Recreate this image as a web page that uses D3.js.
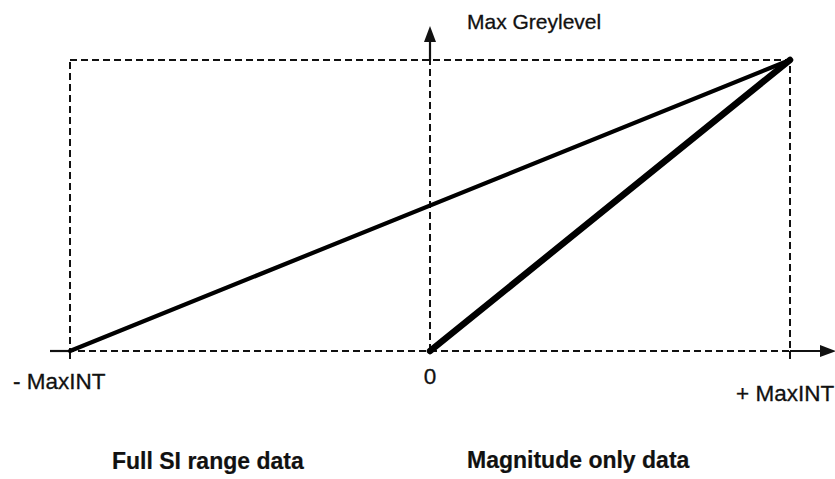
<!DOCTYPE html>
<html lang="en">
<head>
<meta charset="UTF-8">
<title>Greylevel mapping</title>
<script src="https://d3js.org/d3.v7.min.js"></script>
<style>
    body { margin: 0; background: #fff; }
    text { font-family: "Liberation Sans", Arial, sans-serif; fill: #111; stroke: #111; stroke-width: 0.3px; }
    .bold { font-weight: bold; stroke-width: 0.2px; }
</style>
</head>
<body>
<div id="chart"></div>
<script>
    // Data (intensity normalised to MaxINT, greylevel normalised to Max Greylevel)
    const xTicks = [-1, 0, 1];
    const xTickLabels = ["- MaxINT", "0", "+ MaxINT"];
    const fullRange = [{x: -1, y: 0}, {x: 1, y: 1}];
    const magnitudeOnly = [{x: 0, y: 0}, {x: 1, y: 1}];
    const yLabel = "Max Greylevel";
    const captions = ["Full SI range data", "Magnitude only data"];

    const W = 835, H = 479;
    const svg = d3.select("#chart").append("svg")
        .attr("width", W).attr("height", H);

    const x = d3.scaleLinear().domain([-1, 1]).range([70, 790]);
    const y = d3.scaleLinear().domain([0, 1]).range([351, 60]);

    const dash = "7,4";

    // dashed frame
    svg.append("rect")
        .attr("x", x(-1)).attr("y", y(1))
        .attr("width", x(1) - x(-1)).attr("height", y(0) - y(1))
        .attr("fill", "none").attr("stroke", "#111")
        .attr("stroke-width", 2).attr("stroke-dasharray", dash);

    // dashed vertical at 0
    svg.append("line")
        .attr("x1", x(0)).attr("x2", x(0))
        .attr("y1", y(0)).attr("y2", y(1))
        .attr("stroke", "#111").attr("stroke-width", 2)
        .attr("stroke-dasharray", dash);

    // small ticks below the corners
    [-1, 1].forEach(v => {
        svg.append("line")
            .attr("x1", x(v)).attr("x2", x(v))
            .attr("y1", y(0)).attr("y2", y(0) + 8)
            .attr("stroke", "#111").attr("stroke-width", 2);
    });

    // solid axis parts
    svg.append("line")
        .attr("x1", 50).attr("x2", x(-1))
        .attr("y1", y(0)).attr("y2", y(0))
        .attr("stroke", "#111").attr("stroke-width", 2.2);
    svg.append("line")
        .attr("x1", x(1)).attr("x2", 824)
        .attr("y1", y(0)).attr("y2", y(0))
        .attr("stroke", "#111").attr("stroke-width", 2.2);
    svg.append("line")
        .attr("x1", x(0)).attr("x2", x(0))
        .attr("y1", y(1)).attr("y2", 40)
        .attr("stroke", "#111").attr("stroke-width", 2.2);

    // arrowheads
    svg.append("path")
        .attr("d", `M${x(0)},26 L${x(0) - 6},42 L${x(0) + 6},42 Z`)
        .attr("fill", "#111");
    svg.append("path")
        .attr("d", `M836,${y(0)} L820,${y(0) - 6} L820,${y(0) + 6} Z`)
        .attr("fill", "#111");

    const line = d3.line().x(d => x(d.x)).y(d => y(d.y));

    svg.append("path")
        .datum(fullRange)
        .attr("d", line)
        .attr("fill", "none").attr("stroke", "#000")
        .attr("stroke-width", 4.2).attr("stroke-linecap", "round");

    svg.append("path")
        .datum(magnitudeOnly)
        .attr("d", line)
        .attr("fill", "none").attr("stroke", "#000")
        .attr("stroke-width", 6.5).attr("stroke-linecap", "round");

    // tick labels
    const labelPos = [
        {x: 13, y: 389, anchor: "start"},
        {x: x(0), y: 384, anchor: "middle"},
        {x: 736, y: 401, anchor: "start"}
    ];
    svg.selectAll(".tick-label")
        .data(xTicks)
        .join("text")
        .attr("class", "tick-label")
        .attr("x", (d, i) => labelPos[i].x)
        .attr("y", (d, i) => labelPos[i].y)
        .attr("text-anchor", (d, i) => labelPos[i].anchor)
        .style("font-size", "22.5px")
        .text((d, i) => xTickLabels[i]);

    svg.append("text")
        .attr("x", 467).attr("y", 29)
        .style("font-size", "21px")
        .text(yLabel);

    // captions
    svg.append("text").attr("class", "bold")
        .attr("x", 112).attr("y", 469)
        .style("font-size", "23px")
        .text(captions[0]);
    svg.append("text").attr("class", "bold")
        .attr("x", 467).attr("y", 468)
        .style("font-size", "23px")
        .text(captions[1]);
</script>
</body>
</html>
